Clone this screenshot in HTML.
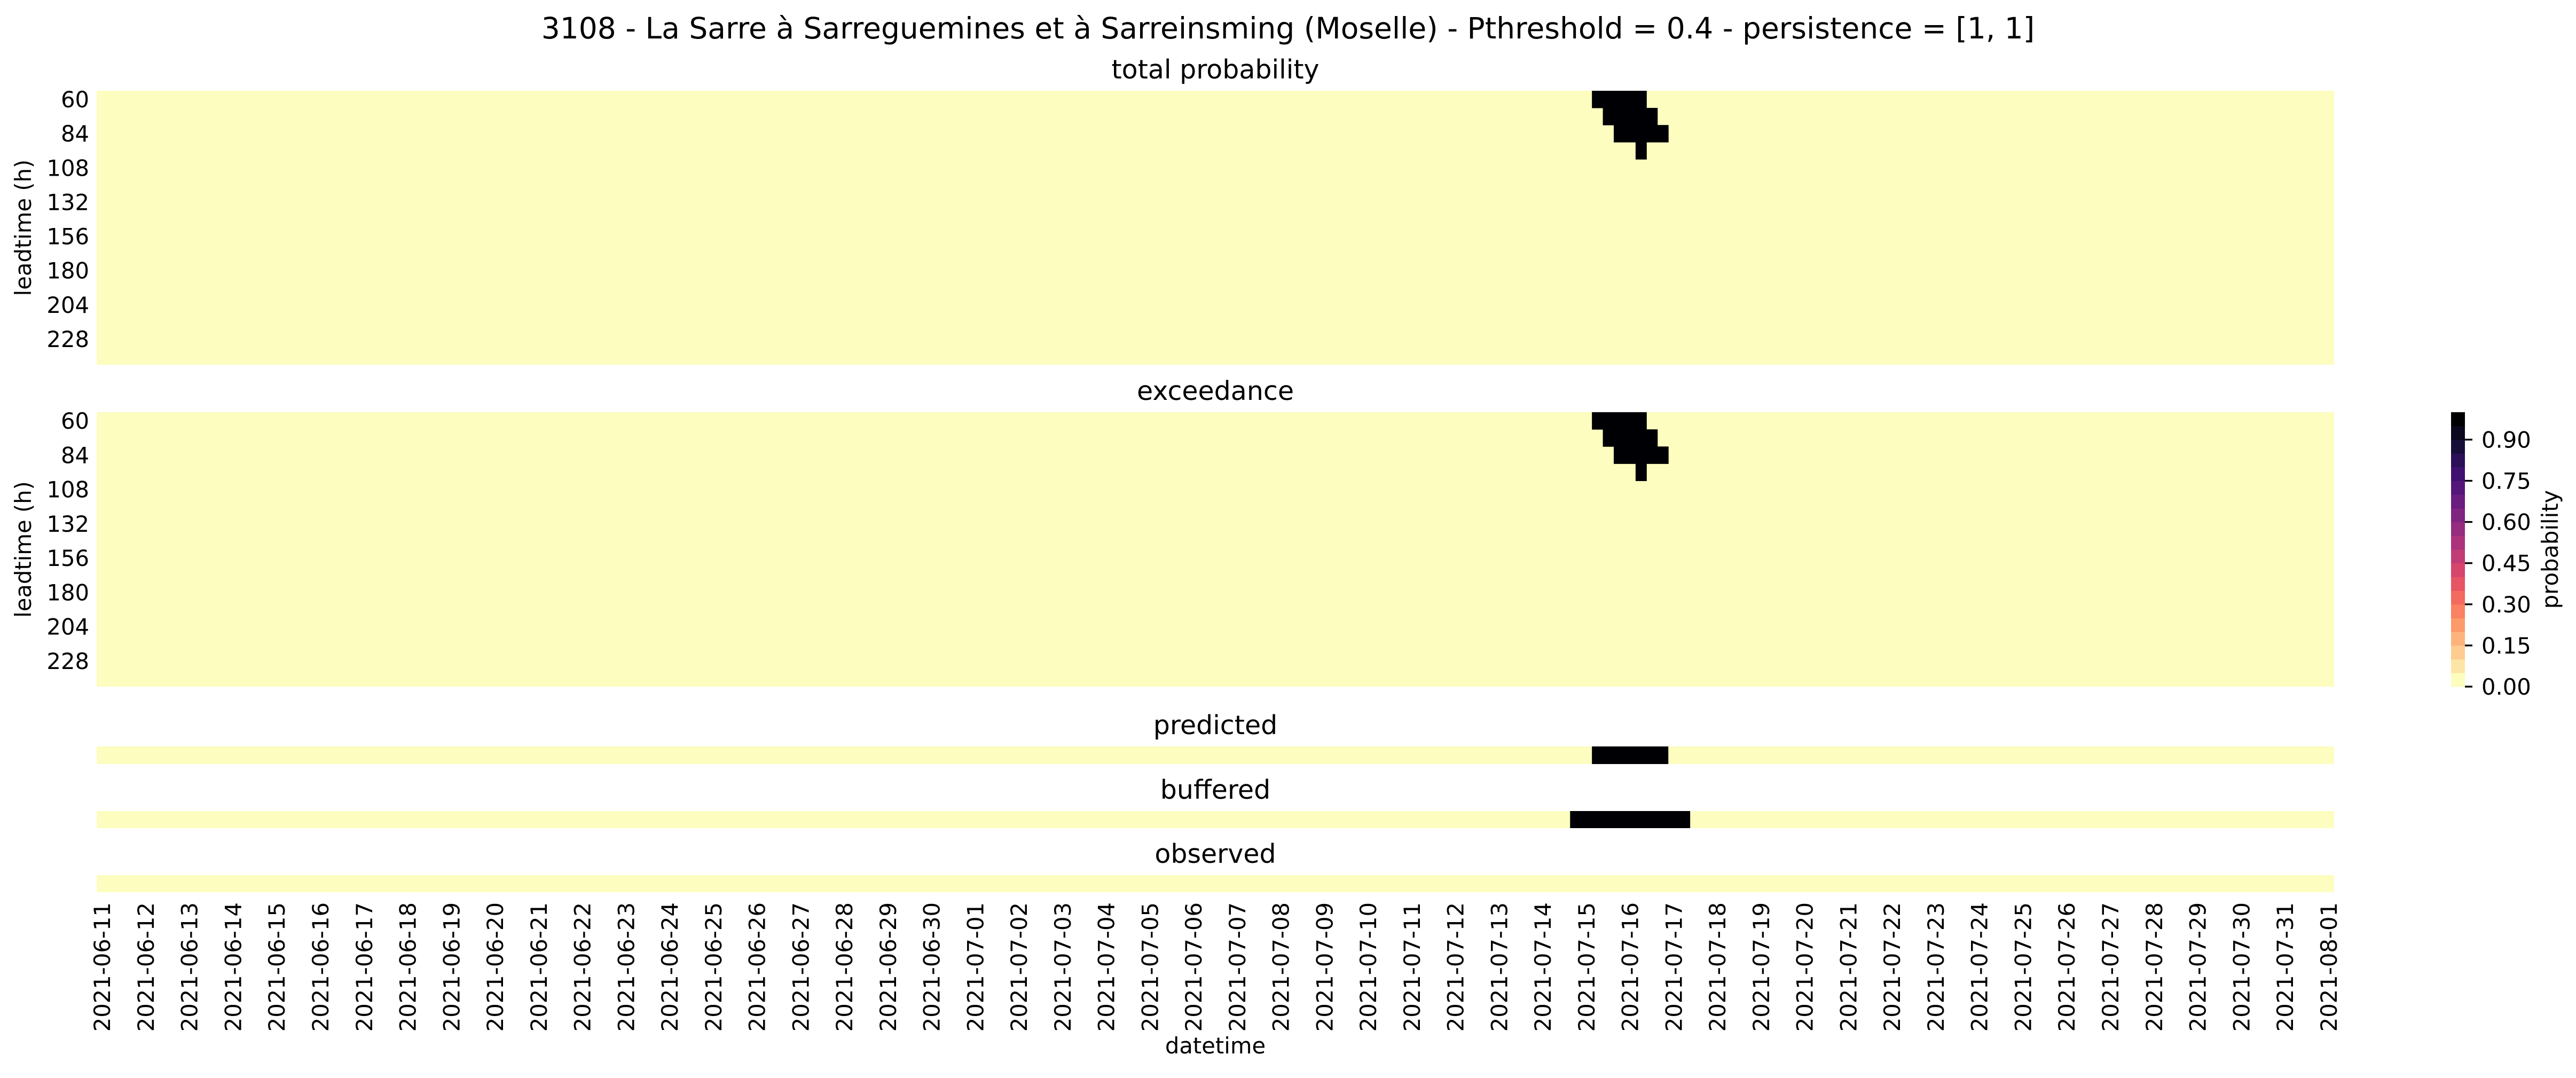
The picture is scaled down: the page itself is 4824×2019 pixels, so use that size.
<!DOCTYPE html>
<html><head><meta charset="utf-8"><style>
html,body{margin:0;padding:0;background:#fff;}
svg text{font-family:"DejaVu Sans","Liberation Sans",sans-serif;fill:#000;}
</style></head><body>
<svg id="fig" xmlns="http://www.w3.org/2000/svg" width="4824" height="2014" viewBox="0 0 4824 2014">
<text x="2412" y="72" font-size="55" text-anchor="middle">3108 - La Sarre à Sarreguemines et à Sarreinsming (Moselle) - Pthreshold = 0.4 - persistence = [1, 1]</text>
<g id="plots"></g>
</svg>
<script>
// ---- data ----
const startDate = "2021-06-11";
const nCols = 205;               // 6-hourly steps from 2021-06-11 00:00 to 2021-08-01 00:00
const leadtimes = [60,72,84,96,108,120,132,144,156,168,180,192,204,216,228,240];
const yTickLabels = ["60","84","108","132","156","180","204","228"];
const xTickLabels = ["2021-06-11","2021-06-12","2021-06-13","2021-06-14","2021-06-15","2021-06-16","2021-06-17","2021-06-18","2021-06-19","2021-06-20","2021-06-21","2021-06-22","2021-06-23","2021-06-24","2021-06-25","2021-06-26","2021-06-27","2021-06-28","2021-06-29","2021-06-30","2021-07-01","2021-07-02","2021-07-03","2021-07-04","2021-07-05","2021-07-06","2021-07-07","2021-07-08","2021-07-09","2021-07-10","2021-07-11","2021-07-12","2021-07-13","2021-07-14","2021-07-15","2021-07-16","2021-07-17","2021-07-18","2021-07-19","2021-07-20","2021-07-21","2021-07-22","2021-07-23","2021-07-24","2021-07-25","2021-07-26","2021-07-27","2021-07-28","2021-07-29","2021-07-30","2021-07-31","2021-08-01"];
// non-zero cells: [rowIndex, firstCol, lastCol, value]
const totalProbCells = [[0,137,141,1],[1,138,142,1],[2,139,143,1],[3,141,141,1]];
const exceedanceCells = [[0,137,141,1],[1,138,142,1],[2,139,143,1],[3,141,141,1]];
// single-row strips: [firstCol, lastCol, value]
const predictedCells = [[137,143,1]];
const bufferedCells = [[135,145,1]];
const observedCells = [];
const cbarTicks = [0,0.15,0.30,0.45,0.60,0.75,0.90];
const cbarLevels = 20;

// ---- layout ----
const X0 = 181, X1 = 4371;
const cw = (X1 - X0) / nCols;
const xCol = c => X0 + c * cw;
const NS = "http://www.w3.org/2000/svg";
const root = document.getElementById('plots');
function el(tag, attrs, parent) {
  const e = document.createElementNS(NS, tag);
  for (const k in attrs) e.setAttribute(k, attrs[k]);
  (parent || root).appendChild(e);
  return e;
}
const magma = [[0,[0,0,4]],[0.1,[20,14,54]],[0.2,[59,15,112]],[0.3,[100,26,128]],[0.4,[140,41,129]],[0.5,[183,55,121]],[0.6,[222,73,104]],[0.7,[247,112,92]],[0.8,[254,159,109]],[0.9,[254,207,146]],[1,[252,253,191]]];
function magmaAt(t) {
  for (let i = 1; i < magma.length; i++) {
    if (t <= magma[i][0]) {
      const a = magma[i-1], b = magma[i], f = (t - a[0]) / (b[0] - a[0]);
      return 'rgb(' + a[1].map((v, j) => Math.round(v + (b[1][j] - v) * f)).join(',') + ')';
    }
  }
  return 'rgb(252,253,191)';
}
function probColor(p) {
  let bin = Math.min(cbarLevels - 1, Math.floor(p * cbarLevels));
  return magmaAt(1 - bin / (cbarLevels - 1));
}
const bg = probColor(0);

function heatmap(name, title, top, bottom, cells) {
  const g = el('g', {});
  
  
  const t = el('text', {x: (X0 + X1) / 2, y: top - 23, 'font-size': 49, 'text-anchor': 'middle'}, g);
  t.textContent = title;
  
  
  const bgr = el('rect', {x: X0, y: top, width: X1 - X0, height: bottom - top, fill: bg}, g);
  
  
  const rh = (bottom - top) / leadtimes.length;
  cells.forEach(c => {
    const r = el('rect', {x: xCol(c[1]), y: top + c[0] * rh, width: (c[2] - c[1] + 1) * cw + 0.5, height: rh + 0.5, fill: probColor(c[3])}, g);
    
    
  });
  yTickLabels.forEach(lbl => {
    const idx = leadtimes.indexOf(+lbl);
    const tx = el('text', {x: 167, y: top + (idx + 0.5) * rh + 15, 'font-size': 41.7, 'text-anchor': 'end'}, g);
    tx.textContent = lbl;
    
    
  });
  const yl = el('text', {x: 0, y: 0, 'font-size': 41.7, 'text-anchor': 'middle', transform: 'translate(58,' + (top + bottom) / 2 + ') rotate(-90)'}, g);
  yl.textContent = 'leadtime (h)';
  
  
}
function strip(name, title, top, bottom, cells) {
  const g = el('g', {});
  
  
  const t = el('text', {x: (X0 + X1) / 2, y: top - 23, 'font-size': 49, 'text-anchor': 'middle'}, g);
  t.textContent = title;
  
  
  const bgr = el('rect', {x: X0, y: top, width: X1 - X0, height: bottom - top, fill: bg}, g);
  
  
  cells.forEach(c => {
    const r = el('rect', {x: xCol(c[0]), y: top, width: (c[1] - c[0] + 1) * cw, height: bottom - top, fill: probColor(c[2])}, g);
    
    
  });
}
heatmap('total-probability', 'total probability', 170, 683, totalProbCells);
heatmap('exceedance', 'exceedance', 772, 1286, exceedanceCells);
strip('predicted', 'predicted', 1398, 1431, predictedCells);
strip('buffered', 'buffered', 1519, 1551, bufferedCells);
strip('observed', 'observed', 1639, 1671, observedCells);

// x tick labels (one per day = every 4 columns)
xTickLabels.forEach((lbl, i) => {
  const cx = xCol(i * 4 + 0.5);
  const t = el('text', {x: 0, y: 0, 'font-size': 41.7, 'text-anchor': 'end', transform: 'translate(' + (cx + 15) + ',1690) rotate(-90)'});
  t.textContent = lbl;
  
  
});
const xl = el('text', {x: (X0 + X1) / 2, y: 1973, 'font-size': 41.7, 'text-anchor': 'middle'});
xl.textContent = 'datetime';



// colorbar
const CB = {x: 4590, w: 26, top: 772, bottom: 1286};
const cbg = el('g', {});


const lh = (CB.bottom - CB.top) / cbarLevels;
for (let i = 0; i < cbarLevels; i++) {
  const r = el('rect', {x: CB.x, y: CB.bottom - (i + 1) * lh, width: CB.w, height: lh + 0.5, fill: probColor((i + 0.5) / cbarLevels)}, cbg);
  
  
}
const cy = v => CB.bottom - v * (CB.bottom - CB.top);
cbarTicks.forEach(v => {
  const ln = el('line', {x1: CB.x + CB.w, x2: CB.x + CB.w + 14, y1: cy(v), y2: cy(v), stroke: '#000', 'stroke-width': 3.3}, cbg);
  
  
  const t = el('text', {x: CB.x + CB.w + 31, y: cy(v) + 15, 'font-size': 41.7}, cbg);
  t.textContent = v.toFixed(2);
  
  
});
const cl = el('text', {x: 0, y: 0, 'font-size': 41.7, 'text-anchor': 'middle', transform: 'translate(4790,' + (CB.top + CB.bottom) / 2 + ') rotate(-90)'}, cbg);
cl.textContent = 'probability';


</script>
</body></html>
